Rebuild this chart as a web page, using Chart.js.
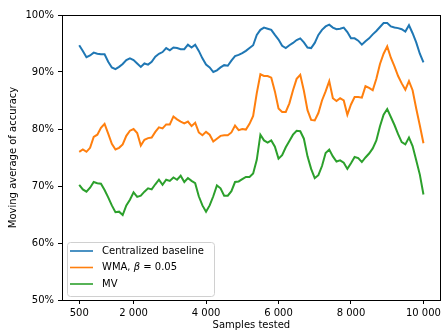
<!DOCTYPE html>
<html>
<head>
<meta charset="utf-8">
<script src="https://cdn.jsdelivr.net/npm/chart.js@4"></script>
<style>
  html, body { margin: 0; padding: 0; background: #fff; }
  #wrap { width: 444px; height: 331px; }
</style>
</head>
<body>
<div id="wrap"><canvas id="accChart" width="444" height="331"></canvas></div>
<script>
// x positions: samples tested, one reading every 100 samples from 500 to 10 000
const sampleStep = 100;
const samples = Array.from({ length: 96 }, (_, i) => 500 + i * sampleStep);

const xTicks = [500, 2000, 4000, 6000, 8000, 10000];
const yTicks = [50, 60, 70, 80, 90, 100];

// moving average of accuracy (%)
const baseline = [
  94.7, 93.7, 92.6, 92.9, 93.4, 93.2, 93.1, 93.1, 91.8, 90.8,
  90.5, 90.9, 91.4, 92.1, 92.4, 92.1, 91.5, 90.9, 91.5, 91.3,
  91.8, 92.7, 93.2, 93.5, 94.2, 93.8, 94.3, 94.2, 94.0, 94.0,
  94.8, 94.3, 94.8, 93.7, 92.4, 91.3, 90.8, 90.0, 90.3, 90.8,
  91.2, 91.1, 92.0, 92.8, 93.0, 93.3, 93.7, 94.2, 94.7, 96.5,
  97.4, 97.8, 97.6, 97.4, 96.5, 95.7, 94.6, 94.2, 94.7, 95.1,
  95.6, 95.9, 95.2, 94.3, 94.2, 95.1, 96.5, 97.4, 98.0, 98.3,
  97.8, 97.5, 97.6, 97.8, 97.0, 95.9, 95.9, 95.5, 94.8, 95.4,
  95.9, 96.6, 97.2, 97.9, 98.6, 98.6, 98.0, 97.8, 97.7, 97.5,
  97.1, 98.2, 96.8, 95.2, 93.2, 91.7
];

const wma = [
  76.0, 76.4, 76.0, 76.7, 78.6, 79.0, 80.2, 80.9, 79.2, 77.4,
  76.4, 76.7, 77.3, 78.8, 79.7, 80.0, 79.3, 77.1, 78.1, 78.4,
  78.5, 79.5, 80.3, 80.1, 80.8, 80.8, 82.2, 81.7, 81.3, 81.0,
  81.3, 80.5, 81.1, 79.4, 78.9, 79.5, 79.0, 77.8, 78.3, 78.8,
  78.9, 78.9, 79.4, 80.6, 79.8, 80.0, 79.9, 80.9, 82.3, 86.3,
  89.6, 89.3, 89.3, 89.0, 86.6, 83.6, 83.0, 83.0, 84.5, 86.8,
  88.8, 89.5, 86.7, 83.3, 81.6, 81.5, 82.8, 85.0, 86.6, 88.4,
  85.4, 84.9, 85.4, 85.0, 82.5, 84.3, 85.6, 85.6, 85.5, 87.5,
  87.2, 86.8, 88.8, 91.4, 93.2, 94.5, 92.5, 91.0, 89.3, 88.0,
  86.9, 88.4, 86.8, 83.6, 80.6, 77.5
];

const mv = [
  70.2, 69.4, 69.0, 69.7, 70.7, 70.5, 70.4, 69.3, 68.0, 66.6,
  65.4, 65.5, 64.9, 66.6, 67.6, 68.9, 68.1, 68.3, 69.0, 69.6,
  69.4, 70.3, 71.1, 70.2, 71.1, 70.9, 71.5, 71.1, 71.8, 70.7,
  71.4, 70.9, 70.5, 68.2, 66.6, 65.5, 66.6, 68.2, 70.1, 69.6,
  68.3, 68.3, 69.1, 70.7, 70.8, 71.2, 71.6, 71.6, 72.2, 74.6,
  79.0, 78.0, 77.6, 78.0, 76.9, 74.8, 75.4, 76.8, 77.9, 79.0,
  79.7, 79.6, 78.3, 75.2, 73.0, 71.4, 71.9, 73.5, 75.8, 76.4,
  75.2, 74.3, 74.5, 74.1, 73.0, 74.0, 75.1, 74.9, 74.2, 75.0,
  75.7, 76.6, 78.0, 80.5, 82.5, 83.5, 82.1, 80.7, 79.1, 77.7,
  77.3, 78.5, 77.0, 74.5, 72.0, 68.5
];

const seriesLabels = ["Centralized baseline", "WMA, β = 0.05", "MV"];
const seriesColors = ["#1f77b4", "#ff7f0e", "#2ca02c"];

const FONT = "DejaVu Sans, sans-serif";

const toPoints = (arr) => arr.map((v, i) => ({ x: samples[i], y: v }));
const thousands = (v) => String(v).replace(/\B(?=(\d{3})+(?!\d))/g, " ");

// full box round the plot, like matplotlib spines
const framePlugin = {
  id: "framePlugin",
  afterDraw(chart) {
    const { ctx, chartArea: a } = chart;
    ctx.save();
    ctx.strokeStyle = "#000";
    ctx.lineWidth = 1;
    ctx.strokeRect(Math.round(a.left) + 0.5, Math.round(a.top) + 0.5,
      Math.round(a.right - a.left) - 1, Math.round(a.bottom - a.top));
    ctx.restore();
  }
};

// legend inside the lower left corner of the plot
const insideLegendPlugin = {
  id: "insideLegendPlugin",
  afterDraw(chart) {
    const { ctx, chartArea: a } = chart;
    const sets = chart.data.datasets;
    const x = a.left + 5, w = 147, h = 54;
    const y = a.bottom - 4 - h;
    ctx.save();
    ctx.beginPath();
    ctx.roundRect(x + 0.5, y + 0.5, w, h, 3);
    ctx.fillStyle = "rgba(255,255,255,0.8)";
    ctx.fill();
    ctx.strokeStyle = "#d0d0d0";
    ctx.lineWidth = 1;
    ctx.stroke();

    ctx.textBaseline = "middle";
    sets.forEach((ds, i) => {
      const ry = y + 9 + i * 16.5;
      ctx.strokeStyle = ds.borderColor;
      ctx.lineWidth = 1.6;
      ctx.beginPath();
      ctx.moveTo(x + 3, ry);
      ctx.lineTo(x + 26, ry);
      ctx.stroke();

      ctx.fillStyle = "#000";
      let tx = x + 35;
      // beta is set in italic, the rest upright
      ds.label.split(/(β)/).forEach((part) => {
        if (!part) return;
        ctx.font = (part === "β" ? "italic " : "") + "10px " + FONT;
        ctx.fillText(part, tx, ry);
        tx += ctx.measureText(part).width;
      });
    });
    ctx.restore();
  }
};

new Chart(document.getElementById("accChart").getContext("2d"), {
  type: "line",
  data: {
    datasets: [
      { label: seriesLabels[0], data: toPoints(baseline), borderColor: seriesColors[0] },
      { label: seriesLabels[1], data: toPoints(wma), borderColor: seriesColors[1] },
      { label: seriesLabels[2], data: toPoints(mv), borderColor: seriesColors[2] }
    ]
  },
  options: {
    responsive: false,
    animation: false,
    layout: { padding: { top: 15, right: 1, left: 0, bottom: 0 } },
    elements: {
      point: { radius: 0 },
      line: { borderWidth: 2, tension: 0, fill: false }
    },
    plugins: {
      legend: { display: false },
      tooltip: { enabled: false }
    },
    scales: {
      x: {
        type: "linear",
        min: 25,
        max: 10475,
        afterBuildTicks(scale) { scale.ticks = xTicks.map(v => ({ value: v })); },
        afterFit(scale) { scale.height = 31; },
        grid: { drawOnChartArea: false, tickLength: 4, tickColor: "#000" },
        border: { color: "#000" },
        ticks: {
          padding: 3,
          color: "#000",
          font: { family: FONT, size: 10 },
          maxRotation: 0,
          callback: (v) => thousands(v)
        },
        title: {
          display: true,
          text: "Samples tested",
          color: "#000",
          font: { family: FONT, size: 10 },
          padding: { top: 0, bottom: 0 }
        }
      },
      y: {
        min: 50,
        max: 100,
        afterBuildTicks(scale) { scale.ticks = yTicks.map(v => ({ value: v })); },
        afterFit(scale) { scale.width = 62; },
        grid: { drawOnChartArea: false, tickLength: 4, tickColor: "#000" },
        border: { color: "#000" },
        ticks: {
          padding: 4,
          color: "#000",
          font: { family: FONT, size: 10 },
          callback: (v) => v + "%"
        },
        title: {
          display: true,
          text: "Moving average of accuracy",
          color: "#000",
          font: { family: FONT, size: 10 },
          padding: { top: 7, bottom: 0 }
        }
      }
    }
  },
  plugins: [framePlugin, insideLegendPlugin]
});
</script>
</body>
</html>
